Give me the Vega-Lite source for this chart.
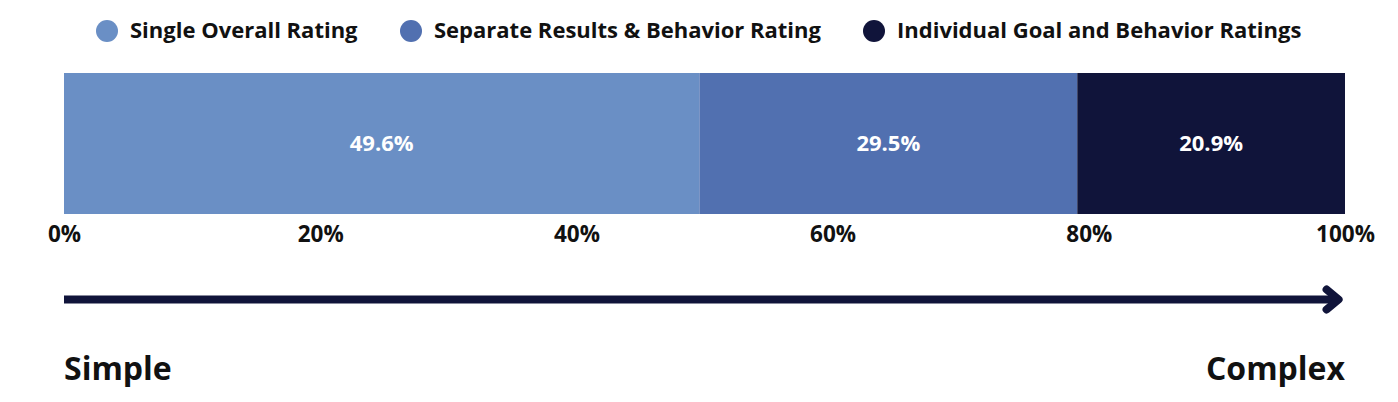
{
  "$schema": "https://vega.github.io/schema/vega-lite/v6.json",
  "padding": {"left": 47, "top": 20, "right": 10, "bottom": 0},
  "datasets": {
    "ratings": [
      {"category": "Single Overall Rating", "share": 0.496, "order": 1},
      {"category": "Separate Results & Behavior Rating", "share": 0.295, "order": 2},
      {"category": "Individual Goal and Behavior Ratings", "share": 0.209, "order": 3}
    ],
    "scale": [
      {"row": "arrow", "from": 0, "to": 0.995, "label": ""},
      {"row": "label", "from": 0, "to": 0, "label": "Simple"},
      {"row": "label", "from": 1, "to": 1, "label": "Complex"}
    ]
  },
  "spacing": 36,
  "vconcat": [
    {
      "width": 1281,
      "height": 141,
      "data": {"name": "ratings"},
      "transform": [
        {"stack": "share", "groupby": [], "sort": [{"field": "order"}], "as": ["start", "end"]},
        {"calculate": "(datum.start + datum.end) / 2", "as": "mid"}
      ],
      "encoding": {
        "y": {"datum": "all", "type": "nominal", "scale": {"paddingInner": 0, "paddingOuter": 0}, "axis": null}
      },
      "layer": [
        {
          "mark": {"type": "bar"},
          "encoding": {
            "x": {
              "field": "start", "type": "quantitative",
              "scale": {"domain": [0, 1], "nice": false},
              "axis": {
                "values": [0, 0.2, 0.4, 0.6, 0.8, 1],
                "format": "%",
                "title": null,
                "domain": false,
                "ticks": false,
                "grid": false,
                "labelPadding": 9,
                "labelFontSize": 22.5,
                "labelFontWeight": "bold",
                "labelColor": "#111111",
                "labelFlush": false
              }
            },
            "x2": {"field": "end"},
            "color": {
              "field": "category", "type": "nominal",
              "scale": {
                "domain": ["Single Overall Rating", "Separate Results & Behavior Rating", "Individual Goal and Behavior Ratings"],
                "range": ["#6a8fc5", "#5170b0", "#10143a"]
              },
              "legend": {
                "orient": "none",
                "legendX": 32,
                "legendY": -53,
                "direction": "horizontal",
                "title": null,
                "padding": 0,
                "symbolType": "circle",
                "symbolSize": 484,
                "symbolStrokeWidth": 0,
                "symbolOpacity": 1,
                "labelFontSize": 22,
                "labelFontWeight": "bold",
                "labelColor": "#111111",
                "labelOffset": 12,
                "columnPadding": 42,
                "labelLimit": 600
              }
            }
          }
        },
        {
          "mark": {"type": "text", "color": "white", "fontSize": 22, "fontWeight": "bold"},
          "encoding": {
            "x": {"field": "mid", "type": "quantitative"},
            "text": {"field": "share", "type": "quantitative", "format": ".1%"}
          }
        }
      ]
    },
    {
      "width": 1281,
      "height": 105,
      "data": {"name": "scale"},
      "encoding": {
        "y": {"field": "row", "type": "ordinal", "scale": {"type": "point", "domain": ["arrow", "label"], "padding": 0.25}, "axis": null}
      },
      "layer": [
        {
          "transform": [{"filter": "datum.row === 'arrow'"}],
          "mark": {"type": "rule", "color": "#10143a", "strokeWidth": 8},
          "encoding": {
            "x": {"field": "from", "type": "quantitative", "scale": {"domain": [0, 1], "nice": false}, "axis": null},
            "x2": {"field": "to"}
          }
        },
        {
          "transform": [{"filter": "datum.row === 'arrow'"}],
          "mark": {
            "type": "point",
            "shape": "M-1.2,-1L0,0L-1.2,1",
            "filled": false,
            "size": 400,
            "strokeWidth": 8,
            "strokeCap": "round",
            "strokeJoin": "round",
            "color": "#10143a",
            "opacity": 1
          },
          "encoding": {
            "x": {"field": "to", "type": "quantitative"}
          }
        },
        {
          "transform": [{"filter": "datum.label === 'Simple'"}],
          "mark": {"type": "text", "align": "left", "fontSize": 32, "fontWeight": "bold", "color": "#111111"},
          "encoding": {
            "x": {"field": "from", "type": "quantitative"},
            "text": {"field": "label"}
          }
        },
        {
          "transform": [{"filter": "datum.label === 'Complex'"}],
          "mark": {"type": "text", "align": "right", "fontSize": 32, "fontWeight": "bold", "color": "#111111"},
          "encoding": {
            "x": {"field": "from", "type": "quantitative"},
            "text": {"field": "label"}
          }
        }
      ]
    }
  ],
  "config": {
    "font": "Open Sans",
    "view": {"stroke": null}
  }
}
